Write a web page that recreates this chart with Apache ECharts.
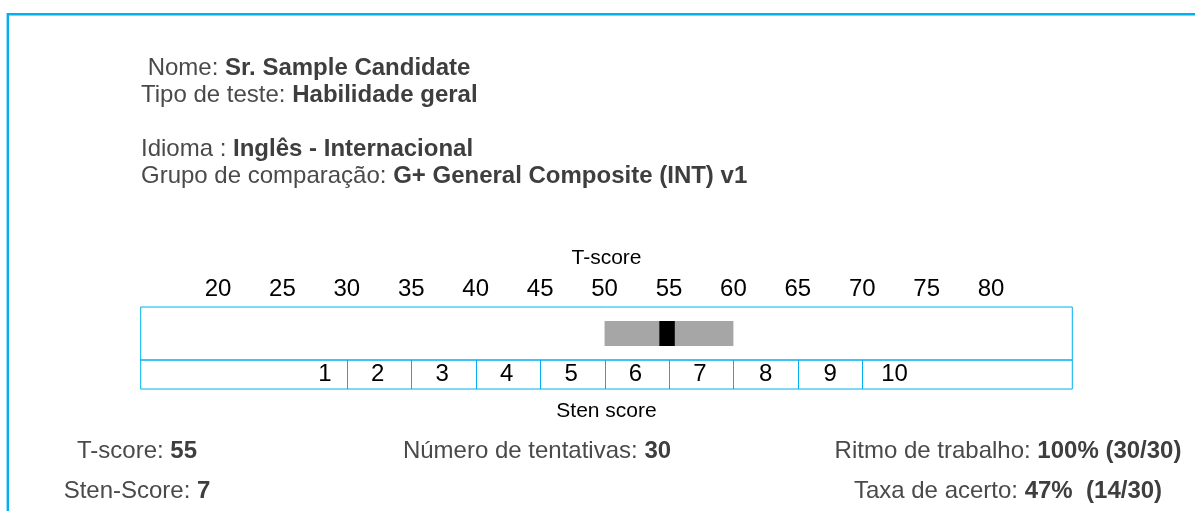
<!DOCTYPE html>
<html>
<head>
<meta charset="utf-8">
<script src="https://cdn.jsdelivr.net/npm/echarts@6/dist/echarts.min.js"></script>
<style>
html,body{margin:0;padding:0;background:#fff;}
#chart{width:1195px;height:511px;}
</style>
</head>
<body>
<div id="chart"></div>
<script>
// ---- data ----
const tTicks = [20, 25, 30, 35, 40, 45, 50, 55, 60, 65, 70, 75, 80];
const tRange = [14, 86.3];
const stenNames = ['1', '2', '3', '4', '5', '6', '7', '8', '9', '10'];
const stenLabelAt = [28.3, 32.4, 37.4, 42.4, 47.4, 52.4, 57.4, 62.5, 67.5, 72.5];
const stenCuts = [30, 35, 40, 45, 50, 55, 60, 65, 70];
const bandT = [50, 60];
const scoreMark = [54.25, 55.45];

const headerLabels = [' Nome: ', 'Tipo de teste: ', 'Idioma : ', 'Grupo de comparação: '];
const headerValues = ['Sr. Sample Candidate', 'Habilidade geral', 'Inglês - Internacional', 'G+ General Composite (INT) v1'];

const statLabels = ['T-score: ', 'Número de tentativas: ', 'Ritmo de trabalho: ', 'Sten-Score: ', 'Taxa de acerto: '];
const statValues = ['55', '30', '100% (30/30)', '7', '47%  (14/30)'];

// ---- layout ----
const FONT = "'Liberation Sans', Arial, sans-serif";
const BLUE = '#00b0f0';
const GREY_TXT = '#4a4a4a';
const headerY = [68, 95, 149, 176];
const statPos = [[137, 451], [537, 451], [1008, 451], [137, 491], [1008, 491]];

const chart = echarts.init(document.getElementById('chart'), null, {renderer: 'canvas'});

const rich = {
  a: {fontSize: 24, fontFamily: FONT, fill: GREY_TXT, color: GREY_TXT},
  b: {fontSize: 24, fontFamily: FONT, fill: '#3e3e3e', color: '#3e3e3e', fontWeight: 'bold'}
};

const graphics = [
  {type: 'rect', silent: true, z: 0,
   shape: {x: 7.8, y: 14.2, width: 1400, height: 800},
   style: {fill: null, stroke: BLUE, lineWidth: 2.4}}
];
headerLabels.forEach((lab, i) => {
  graphics.push({type: 'text', x: 141, y: headerY[i], z: 10,
    style: {text: '{a|' + lab + '}{b|' + headerValues[i] + '}', rich: rich, fill: GREY_TXT,
            verticalAlign: 'middle', align: 'left'}});
});
statLabels.forEach((lab, i) => {
  graphics.push({type: 'text', x: statPos[i][0], y: statPos[i][1], z: 10,
    style: {text: '{a|' + lab + '}{b|' + statValues[i] + '}', rich: rich, fill: GREY_TXT,
            verticalAlign: 'middle', align: 'center'}});
});

const GL = 140.7, GW = 931.6;

const option = {
  animation: false,
  graphic: graphics,
  grid: [
    {left: GL, width: GW, top: 307, height: 53, show: true, borderColor: BLUE, borderWidth: 1, containLabel: false},
    {left: GL, width: GW, top: 360, height: 29, show: true, borderColor: BLUE, borderWidth: 1, containLabel: false}
  ],
  xAxis: [
    {type: 'value', gridIndex: 0, min: tRange[0], max: tRange[1], position: 'top',
     name: 'T-score', nameLocation: 'middle', nameGap: 38,
     nameTextStyle: {fontSize: 21, fontFamily: FONT, color: '#000'},
     axisLine: {show: false}, axisTick: {show: false}, splitLine: {show: false},
     axisLabel: {customValues: tTicks, fontSize: 24, fontFamily: FONT, color: '#000', margin: 6}},
    {type: 'value', gridIndex: 1, min: tRange[0], max: tRange[1], position: 'bottom',
     name: 'Sten score', nameLocation: 'middle', nameGap: 12,
     nameTextStyle: {fontSize: 21, fontFamily: FONT, color: '#000'},
     axisLine: {show: false}, axisTick: {show: false}, splitLine: {show: false},
     axisLabel: {show: false}}
  ],
  yAxis: [
    {type: 'value', gridIndex: 0, min: 0, max: 1, show: false},
    {type: 'value', gridIndex: 1, min: 0, max: 1, show: false}
  ],
  series: [
    {type: 'custom', xAxisIndex: 0, yAxisIndex: 0, z: 2,
     data: [[bandT[0], bandT[1]]],
     renderItem: function (params, api) {
       const a = api.coord([api.value(0), 0.5]);
       const b = api.coord([api.value(1), 0.5]);
       return {type: 'rect', shape: {x: a[0], y: a[1] - 12.5, width: b[0] - a[0], height: 25},
               style: {fill: '#a6a6a6'}};
     }},
    {type: 'custom', xAxisIndex: 0, yAxisIndex: 0, z: 3,
     data: [[scoreMark[0], scoreMark[1]]],
     renderItem: function (params, api) {
       const a = api.coord([api.value(0), 0.5]);
       const b = api.coord([api.value(1), 0.5]);
       return {type: 'rect', shape: {x: a[0], y: a[1] - 12.5, width: b[0] - a[0], height: 25},
               style: {fill: '#000'}};
     }},
    {type: 'custom', xAxisIndex: 1, yAxisIndex: 1, z: 3,
     data: stenCuts.map(v => [v]),
     renderItem: function (params, api) {
       const a = api.coord([api.value(0), 0]);
       const b = api.coord([api.value(0), 1]);
       const x = Math.round(a[0]) + 0.5;
       return {type: 'line', shape: {x1: x, y1: a[1], x2: x, y2: b[1]},
               style: {stroke: BLUE, lineWidth: 1}};
     }},
    {type: 'custom', xAxisIndex: 1, yAxisIndex: 1, z: 4,
     data: stenLabelAt.map((v, i) => [v, i]),
     renderItem: function (params, api) {
       const p = api.coord([api.value(0), 0.5]);
       return {type: 'text', x: p[0], y: p[1],
               style: {text: stenNames[params.dataIndex], fontSize: 24, fontFamily: FONT, fill: '#000',
                       align: 'center', verticalAlign: 'middle'}};
     }}
  ]
};
chart.setOption(option);
</script>
</body>
</html>
